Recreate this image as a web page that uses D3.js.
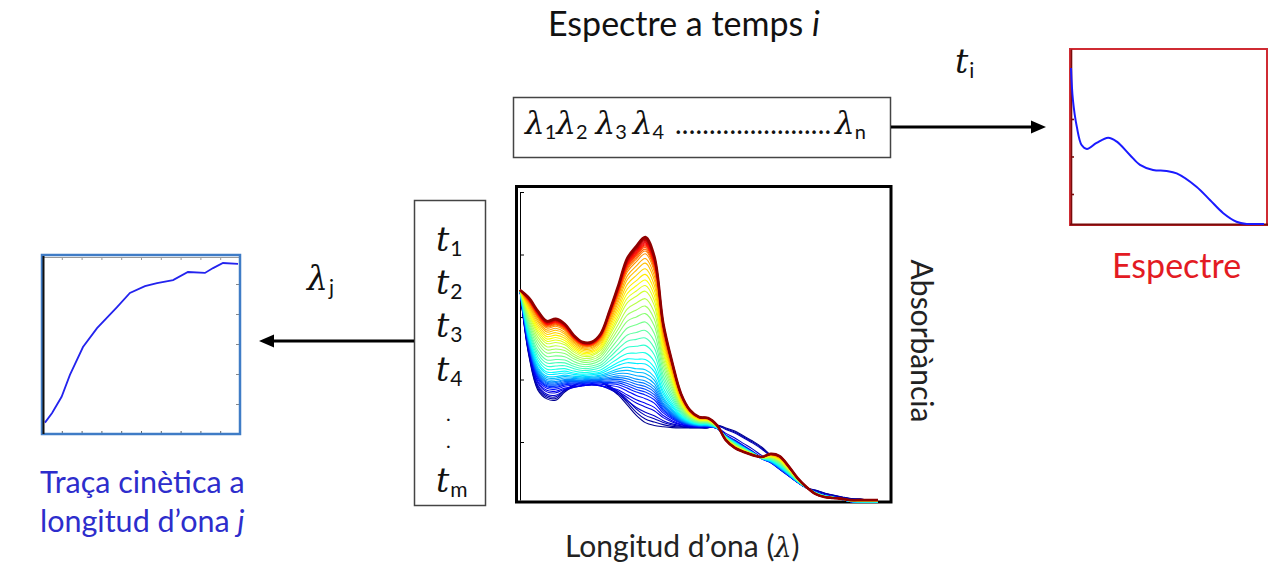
<!DOCTYPE html>
<html>
<head>
<meta charset="utf-8">
<script src="https://cdn.jsdelivr.net/npm/d3@7"></script>
<style>
body { margin: 0; background: #fff; }
svg { display: block; font-family: Lato, "Open Sans", sans-serif; }
</style>
</head>
<body>
<svg width="1272" height="564"></svg>
<script>
// main chart: wavelength grid (nm)
const wavelengths = [200, 210, 220, 230, 240, 250, 260, 270, 280, 290, 300, 310, 320, 330, 340, 350, 360, 370, 380, 390,
    400, 410, 420, 430, 440, 450, 460, 470, 480, 490, 500, 510, 520, 530, 540, 550, 560, 570, 580, 590, 600];
// first spectrum (t1, navy)
const absFirst = [0.686, 0.475, 0.366, 0.338, 0.334, 0.360, 0.379, 0.392, 0.398, 0.392, 0.373, 0.350, 0.318, 0.285, 0.262,
    0.253, 0.249, 0.246, 0.245, 0.245, 0.245, 0.245, 0.254, 0.245, 0.235, 0.219, 0.203, 0.184, 0.158, 0.136,
    0.098, 0.072, 0.053, 0.046, 0.037, 0.030, 0.024, 0.019, 0.018, 0.014, 0.014];
// lower envelope of the early (blue) spectra
const absStart = [0.686, 0.475, 0.366, 0.338, 0.334, 0.347, 0.357, 0.363, 0.366, 0.360, 0.344, 0.325, 0.296, 0.274, 0.258,
    0.251, 0.248, 0.245, 0.245, 0.245, 0.245, 0.245, 0.242, 0.222, 0.206, 0.187, 0.168, 0.146, 0.130, 0.107,
    0.088, 0.069, 0.053, 0.040, 0.030, 0.024, 0.016, 0.008, 0.006, 0.006, 0.006];
// last spectrum (tm, red)
const absEnd = [0.686, 0.661, 0.619, 0.587, 0.594, 0.578, 0.542, 0.520, 0.520, 0.546, 0.619, 0.702, 0.789, 0.827, 0.856,
    0.795, 0.581, 0.456, 0.354, 0.302, 0.280, 0.277, 0.254, 0.206, 0.181, 0.168, 0.158, 0.152, 0.162, 0.155,
    0.123, 0.085, 0.056, 0.034, 0.024, 0.021, 0.018, 0.014, 0.014, 0.014, 0.014];
// share of the first spectrum in each curve
const earlyWeight = [1, 0.93, 0.86, 0.3, 0.1, 0, 0, 0, 0, 0, 0, 0, 0, 0, 0, 0, 0, 0, 0, 0, 0, 0, 0,
    0, 0, 0, 0, 0, 0, 0, 0, 0, 0, 0, 0, 0, 0, 0, 0, 0, 0, 0, 0, 0, 0, 0];
// reaction progress of each recorded spectrum t1..tm
const progress = [0, 0.02, 0.04, 0.06, 0.09, 0.11, 0.135, 0.155, 0.17, 0.185, 0.20, 0.215, 0.23, 0.25, 0.27, 0.29,
    0.32, 0.345, 0.38, 0.42, 0.46, 0.50, 0.545, 0.59, 0.63, 0.67, 0.71, 0.74, 0.77, 0.80, 0.83, 0.86,
    0.885, 0.91, 0.925, 0.935, 0.945, 0.952, 0.958, 0.964, 0.970, 0.976, 0.982, 0.988, 0.994, 1.0];
const absTicks = [0.2, 0.4, 0.6, 0.8, 1.0];

// kinetic trace at wavelength j
const traceTime = [0.15, 0.51, 0.99, 1.41, 2.07, 2.78, 3.79, 4.44, 5.20, 5.81, 6.62, 7.37, 8.23, 8.64, 9.14, 9.90];
const traceValue = [0.38, 0.70, 1.24, 1.97, 2.90, 3.53, 4.23, 4.70, 4.93, 5.03, 5.13, 5.40, 5.37, 5.53, 5.70, 5.67];
const traceTicksX = [1, 2, 3, 4, 5, 6, 7, 8, 9];
const traceTicksY = [1, 2, 3, 4, 5];

// spectrum at time i
const spectrumWl = [200, 204, 212, 222, 233, 253, 277, 295, 322, 343, 370, 398, 419, 460, 488, 515, 543, 564, 580, 600];
const spectrumAbs = [0.872, 0.701, 0.559, 0.461, 0.440, 0.472, 0.500, 0.479, 0.408, 0.355, 0.328, 0.323, 0.310,
    0.239, 0.168, 0.099, 0.052, 0.040, 0.040, 0.040];
const spectrumTicks = [0.2, 0.4, 0.6];

document.addEventListener("DOMContentLoaded", function() {
    const svg = d3.select("svg");
    const serif = "'DejaVu Serif', serif";

    // symbol with subscript as a single text element
    function symbolText(xPos, yPos, sym, sub, size) {
        const t = svg.append("text").attr("x", xPos).attr("y", yPos).attr("fill", "#111");
        t.append("tspan").attr("font-family", serif).attr("font-style", "italic")
            .attr("font-size", size).text(sym);
        t.append("tspan").attr("dx", 1).attr("dy", 5).attr("font-size", 21).text(sub);
        return t;
    }

    // ---------- main chart ----------
    const x = d3.scaleLinear().domain([200, 600]).range([520, 878]);
    const y = d3.scaleLinear().domain([0.0144, 1.0]).range([500, 192]);

    const jet = d3.scaleLinear()
        .domain([0, 0.125, 0.375, 0.625, 0.875, 1])
        .range(["#00008f", "#0000ff", "#00ffff", "#ffff00", "#ff0000", "#8f0000"]);

    svg.append("rect")
        .attr("x", 516.5).attr("y", 186.5)
        .attr("width", 374.5).attr("height", 315.5)
        .attr("fill", "none").attr("stroke", "#000").attr("stroke-width", 3);

    svg.append("g")
        .attr("transform", "translate(520,0)")
        .call(d3.axisRight(y).tickValues(absTicks).tickSize(4).tickSizeOuter(0).tickFormat(""))
        .call(g => g.selectAll("path,line").attr("stroke", "#000"));

    const n = progress.length;
    const curves = progress.map((p, i) => wavelengths.map((w, k) => {
        const base = earlyWeight[i] * absFirst[k] + (1 - earlyWeight[i]) * absStart[k];
        return {w: w, v: (1 - p) * base + p * absEnd[k]};
    }));

    const line = d3.line()
        .x(d => x(d.w))
        .y(d => y(d.v))
        .curve(d3.curveCatmullRom.alpha(0.5));

    svg.append("g").selectAll("path")
        .data(curves)
        .enter().append("path")
        .attr("d", line)
        .attr("fill", "none")
        .attr("stroke", (d, i) => jet(i / (n - 1)))
        .attr("stroke-width", (d, i) => i === n - 1 ? 2.6 : (i >= n - 3 ? 1.8 : 1.1));

    svg.append("text")
        .attr("transform", "translate(911,341) rotate(90)")
        .attr("text-anchor", "middle")
        .attr("font-size", 30).attr("fill", "#222")
        .text("Absorbància");

    const xl = svg.append("text")
        .attr("x", 565).attr("y", 557)
        .attr("font-size", 30).attr("fill", "#222");
    xl.append("tspan").text("Longitud d’ona (");
    xl.append("tspan").attr("font-family", serif).attr("font-style", "italic").attr("font-size", 27).text("λ");
    xl.append("tspan").text(")");

    // ---------- title and wavelength box ----------
    const title = svg.append("text")
        .attr("x", 548).attr("y", 36)
        .attr("font-size", 34).attr("fill", "#111");
    title.append("tspan").text("Espectre a temps ");
    title.append("tspan").attr("font-style", "italic").text("i");

    svg.append("rect")
        .attr("x", 513.5).attr("y", 97.5).attr("width", 377).attr("height", 60)
        .attr("fill", "#fff").attr("stroke", "#444").attr("stroke-width", 1.5);

    // gap before each lambda, then its subscript
    const lamLabels = [{gap: 0, s: "1"}, {gap: 0, s: "2"}, {gap: 8, s: "3"}, {gap: 6, s: "4"}, {gap: 8, s: "n"}];
    const lam = svg.append("text").attr("x", 525).attr("y", 134).attr("fill", "#111");
    lamLabels.forEach((d, i) => {
        lam.append("tspan").attr("dx", d.gap).attr("y", 134)
            .attr("font-family", serif).attr("font-style", "italic")
            .attr("font-size", 31).text("λ");
        lam.append("tspan").attr("y", 139).attr("font-size", 20).text(d.s);
        if (i === 3) {
            lam.append("tspan").attr("dx", 11).attr("y", 134)
                .attr("font-size", 28).attr("textLength", 156).attr("lengthAdjust", "spacing")
                .text(".......................");
        }
    });

    // ---------- time box ----------
    svg.append("rect")
        .attr("x", 414.5).attr("y", 200.5).attr("width", 71).attr("height", 305)
        .attr("fill", "#fff").attr("stroke", "#444").attr("stroke-width", 1.5);

    const timeLabels = [{y: 251, s: "1"}, {y: 294, s: "2"}, {y: 337, s: "3"}, {y: 381, s: "4"}, {y: 492, s: "m"}];
    timeLabels.forEach(d => symbolText(436, d.y, "t", d.s, 33));
    svg.append("text").attr("x", 446).attr("y", 421)
        .attr("font-size", 20).attr("fill", "#111")
        .call(t => t.append("tspan").text("."))
        .call(t => t.append("tspan").attr("x", 446).attr("y", 448).text("."));

    // ---------- arrows ----------
    svg.append("line").attr("x1", 891).attr("x2", 1034).attr("y1", 127).attr("y2", 127)
        .attr("stroke", "#000").attr("stroke-width", 3);
    svg.append("path").attr("d", "M1031,120.5 L1046,127 L1031,133.5 Z").attr("fill", "#000");

    svg.append("line").attr("x1", 414).attr("x2", 270).attr("y1", 341).attr("y2", 341)
        .attr("stroke", "#000").attr("stroke-width", 3);
    svg.append("path").attr("d", "M274,334.5 L259,341 L274,347.5 Z").attr("fill", "#000");

    symbolText(955, 73, "t", "i", 33);
    symbolText(307, 290, "λ", "j", 33);

    // ---------- spectrum at time i ----------
    const sx = d3.scaleLinear().domain([200, 600]).range([1071, 1264]);
    const sy = d3.scaleLinear().domain([0.04, 0.973]).range([224, 49]);

    svg.append("rect")
        .attr("x", 1070).attr("y", 49).attr("width", 197).attr("height", 176)
        .attr("fill", "none").attr("stroke", "#cf2b33").attr("stroke-width", 2);
    svg.append("g")
        .attr("transform", "translate(1071,0)")
        .call(d3.axisRight(sy).tickValues(spectrumTicks).tickSize(3).tickSizeOuter(0).tickFormat(""))
        .call(g => g.selectAll("path,line").attr("stroke", "#7a0b0b").attr("stroke-width", 1.6));
    svg.append("line").attr("x1", 1070).attr("x2", 1268).attr("y1", 224.5).attr("y2", 224.5)
        .attr("stroke", "#7a0b0b").attr("stroke-width", 1.8);

    svg.append("path")
        .datum(spectrumWl.map((w, i) => ({w: w, v: spectrumAbs[i]})))
        .attr("d", d3.line().x(d => sx(d.w)).y(d => sy(d.v)).curve(d3.curveCatmullRom.alpha(0.5)))
        .attr("fill", "none").attr("stroke", "#1a1aff").attr("stroke-width", 2);

    svg.append("text").attr("x", 1112).attr("y", 278)
        .attr("font-size", 34).attr("fill", "#e31b23").text("Espectre");

    // ---------- kinetic trace ----------
    const kx = d3.scaleLinear().domain([0, 10]).range([42, 240]);
    const ky = d3.scaleLinear().domain([0, 6]).range([434, 254]);

    const kg = svg.append("g");
    kg.append("line").attr("x1", 43).attr("x2", 240).attr("y1", 257.5).attr("y2", 257.5)
        .attr("stroke", "#999").attr("stroke-width", 1);
    kg.append("g").attr("transform", "translate(0,434)")
        .call(d3.axisTop(kx).tickValues(traceTicksX).tickSize(3).tickSizeOuter(0).tickFormat(""))
        .call(g => g.select(".domain").remove())
        .call(g => g.selectAll("line").attr("stroke", "#666"));
    kg.append("g").attr("transform", "translate(0,257)")
        .call(d3.axisBottom(kx).tickValues(traceTicksX).tickSize(3).tickSizeOuter(0).tickFormat(""))
        .call(g => g.select(".domain").remove())
        .call(g => g.selectAll("line").attr("stroke", "#999"));
    kg.append("g").attr("transform", "translate(239,0)")
        .call(d3.axisLeft(ky).tickValues(traceTicksY).tickSize(3).tickSizeOuter(0).tickFormat(""))
        .call(g => g.select(".domain").remove())
        .call(g => g.selectAll("line").attr("stroke", "#888"));

    kg.append("path")
        .datum(traceTime.map((t, i) => ({t: t, v: traceValue[i]})))
        .attr("d", d3.line().x(d => kx(d.t)).y(d => ky(d.v)))
        .attr("fill", "none").attr("stroke", "#2323ee").attr("stroke-width", 1.8);

    kg.append("rect")
        .attr("x", 42).attr("y", 255).attr("width", 198).attr("height", 179)
        .attr("fill", "none").attr("stroke", "#3f7cc6").attr("stroke-width", 2.5);
    kg.append("line").attr("x1", 43.5).attr("x2", 43.5).attr("y1", 256).attr("y2", 434)
        .attr("stroke", "#111").attr("stroke-width", 2);

    const k1 = svg.append("text").attr("x", 40).attr("y", 493)
        .attr("font-size", 30.5).attr("fill", "#2d2dcc");
    k1.text("Traça cinètica a");
    const k2 = svg.append("text").attr("x", 40).attr("y", 532)
        .attr("font-size", 30.5).attr("fill", "#2d2dcc");
    k2.append("tspan").text("longitud d’ona ");
    k2.append("tspan").attr("font-style", "italic").text("j");
});
</script>
</body>
</html>
